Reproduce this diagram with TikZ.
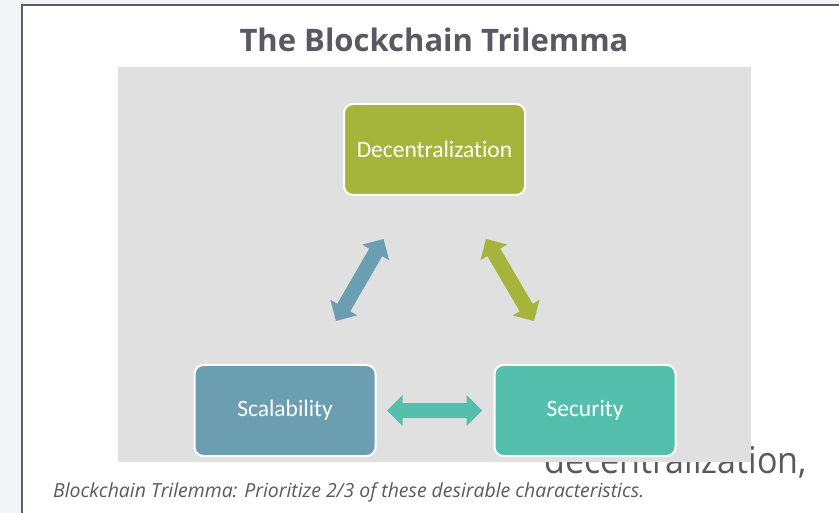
\documentclass[tikz,border=0pt]{standalone}
\usepackage{fontspec}
\setmainfont{Carlito}[Ligatures=NoCommon]
\newfontfamily\headfont{Open Sans}
\usetikzlibrary{calc}

\definecolor{pagebg}{HTML}{F3F4F6}
\definecolor{framecol}{HTML}{5F5E66}
\definecolor{panelgray}{HTML}{E0E0E0}
\definecolor{ink}{HTML}{5A5961}
\definecolor{olive}{HTML}{A5B53B}
\definecolor{steel}{HTML}{6A9EB0}
\definecolor{sea}{HTML}{55BFAE}

% block double arrow: #1 colour, #2 and #3 the two tips
\newcommand\blockarrow[3]{%
  \fill[#1]
    (#2)
    -- ($(#2)!15.5pt!(#3)!15.5pt!90:(#3)$)
    -- ($(#2)!15.5pt!(#3)!7.5pt!90:(#3)$)
    -- ($(#3)!15.5pt!(#2)!7.5pt!-90:(#2)$)
    -- ($(#3)!15.5pt!(#2)!15.5pt!-90:(#2)$)
    -- (#3)
    -- ($(#3)!15.5pt!(#2)!15.5pt!90:(#2)$)
    -- ($(#3)!15.5pt!(#2)!7.5pt!90:(#2)$)
    -- ($(#2)!15.5pt!(#3)!7.5pt!-90:(#3)$)
    -- ($(#2)!15.5pt!(#3)!15.5pt!-90:(#3)$)
    -- cycle;}

\tikzset{
  corner/.style={draw=white, line width=2pt, rounded corners=9pt,
    minimum width=181pt, minimum height=91pt, inner sep=0pt,
    text=white, font=\fontsize{23.5}{26}\selectfont},
}

\begin{document}
\begin{tikzpicture}[x=1pt, y=-1pt]
  \useasboundingbox (0,0) rectangle (839,513);
  \fill[pagebg] (0,0) rectangle (839,513);
  \fill[white] (22,5) rectangle (839,513);
  \draw[framecol, line width=2.5pt] (22,513) -- (22,5) -- (839,5);

  % slide text partly hidden behind the panel
  \node[anchor=base west, inner sep=0pt, text=ink,
        font=\headfont\fontsize{37}{40}\selectfont] (tail) at (544,473)
        {\scalebox{0.92}[1]{decentralization,}};

  % grey panel
  \fill[panelgray] (118,67) rectangle (751,462);

  % heading
  \node[anchor=base, inner sep=0pt, text=ink,
        font=\headfont\bfseries\fontsize{31}{34}\selectfont] (title) at (434,52)
        {The Blockchain Trilemma};

  % the three properties
  \node[corner, fill=olive] (dec) at (434.5,149.5) {Decentralization};
  \node[corner, fill=steel] (sca) at (285,410.5) {Scalability};
  \node[corner, fill=sea]   (sec) at (585,410.5) {Security};

  % arrow tips
  \coordinate (sa) at (336,321);
  \coordinate (sb) at (383.5,239);
  \coordinate (ga) at (486,239);
  \coordinate (gb) at (534,321);
  \coordinate (ta) at (387,410.5);
  \coordinate (tb) at (482,410.5);

  \blockarrow{steel}{sa}{sb}
  \blockarrow{olive}{ga}{gb}
  \blockarrow{sea}{ta}{tb}

  % caption
  \node[anchor=base west, inner sep=0pt, text=ink] (cap) at (53,497)
        {\resizebox{591pt}{!}{\headfont\itshape\fontsize{17}{20}\selectfont
         Blockchain Trilemma: Prioritize 2/3 of these desirable characteristics.}};
\end{tikzpicture}
\end{document}
